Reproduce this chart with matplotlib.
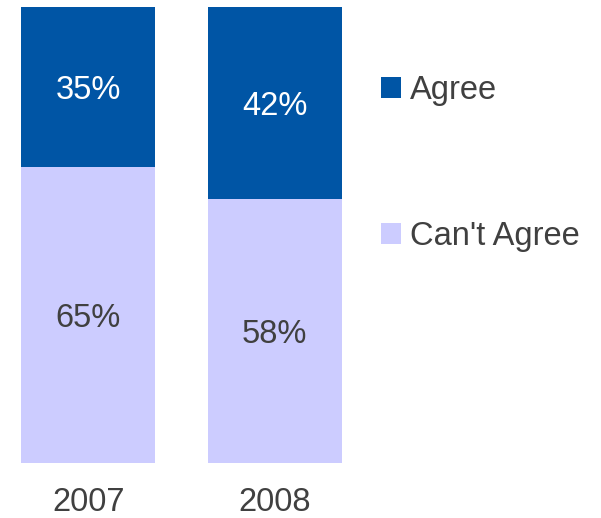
import matplotlib.pyplot as plt
from matplotlib.patches import Patch

plt.rcParams['font.family'] = ['Liberation Sans', 'DejaVu Sans']

# dados
years = ['2007', '2008']
agree = [35, 42]
cant_agree = [65, 58]
series_names = ['Agree', "Can't Agree"]

dark_blue = '#0055A5'
light_blue = '#CCCCFF'
text_grey = '#404040'
fs = 23.5

fig = plt.figure(figsize=(6.01, 5.18), dpi=100)
ax = fig.add_axes([21 / 601, 1 - 463 / 518, 321 / 601, 456 / 518])

x = list(range(len(years)))
w = 0.721
ax.bar(x, cant_agree, width=w, color=light_blue)
ax.bar(x, agree, width=w, bottom=cant_agree, color=dark_blue)

for i in x:
    ax.text(i, cant_agree[i] / 2, f'{cant_agree[i]}%', ha='center', va='center_baseline',
            fontsize=fs, color=text_grey)
    ax.text(i, cant_agree[i] + agree[i] / 2, f'{agree[i]}%', ha='center',
            va='center_baseline', fontsize=fs, color='white')

ax.set_xlim(-w / 2, 1 + w / 2)
ax.set_ylim(0, 100)
ax.set_xticks(x)
ax.set_xticklabels(years, fontsize=fs, color=text_grey)
ax.tick_params(axis='x', length=0, pad=17)
ax.set_yticks([])
for s in ax.spines.values():
    s.set_visible(False)

handles = [Patch(facecolor=dark_blue), Patch(facecolor=light_blue)]
fig.legend(handles, series_names, loc='upper left', bbox_to_anchor=(381 / 601, 1 - 75 / 518),
           frameon=False, fontsize=fs, labelcolor=text_grey, handlelength=0.61,
           handleheight=0.61, handletextpad=0.28, labelspacing=3.51, borderpad=0,
           borderaxespad=0)

plt.savefig('out.png', dpi=100)
